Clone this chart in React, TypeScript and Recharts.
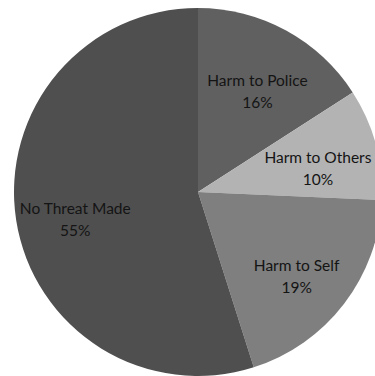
import { PieChart, Pie, Cell } from 'recharts';

const categories = ['Harm to Police', 'Harm to Others', 'Harm to Self', 'No Threat Made'];
const shares = [15.9, 9.8, 19.4, 54.9];
const colors = ['#606060', '#b3b3b3', '#7f7f7f', '#4f4f4f'];

const data = categories.map((name, i) => ({ name, value: shares[i] }));

const RADIAN = Math.PI / 180;

function renderLabel(props: any) {
  const { cx, cy, midAngle, outerRadius, percent, name } = props;
  const r = outerRadius * 0.675;
  const x = cx + r * Math.cos(-midAngle * RADIAN);
  const y = cy + r * Math.sin(-midAngle * RADIAN) + 6;
  return (
    <text
      x={x}
      y={y}
      textAnchor="middle"
      fill="#141414"
      fontFamily="Lato, 'Open Sans', sans-serif"
      fontSize={15.5}
    >
      <tspan x={x} dy={-3}>{name}</tspan>
      <tspan x={x} dy={22}>{Math.round(percent * 100)}%</tspan>
    </text>
  );
}

export default function App() {
  return (
    <div style={{ position: 'absolute', left: 0, top: 0, width: 375, height: 376, background: '#fff' }}>
      <PieChart width={375} height={376} margin={{ top: 0, right: 0, bottom: 0, left: 0 }}>
        <Pie
          data={data}
          dataKey="value"
          nameKey="name"
          cx={198}
          cy={192}
          outerRadius={184}
          startAngle={90}
          endAngle={-270}
          stroke="none"
          labelLine={false}
          label={renderLabel}
          isAnimationActive={false}
        >
          {data.map((d, i) => (
            <Cell key={d.name} fill={colors[i]} />
          ))}
        </Pie>
      </PieChart>
    </div>
  );
}
